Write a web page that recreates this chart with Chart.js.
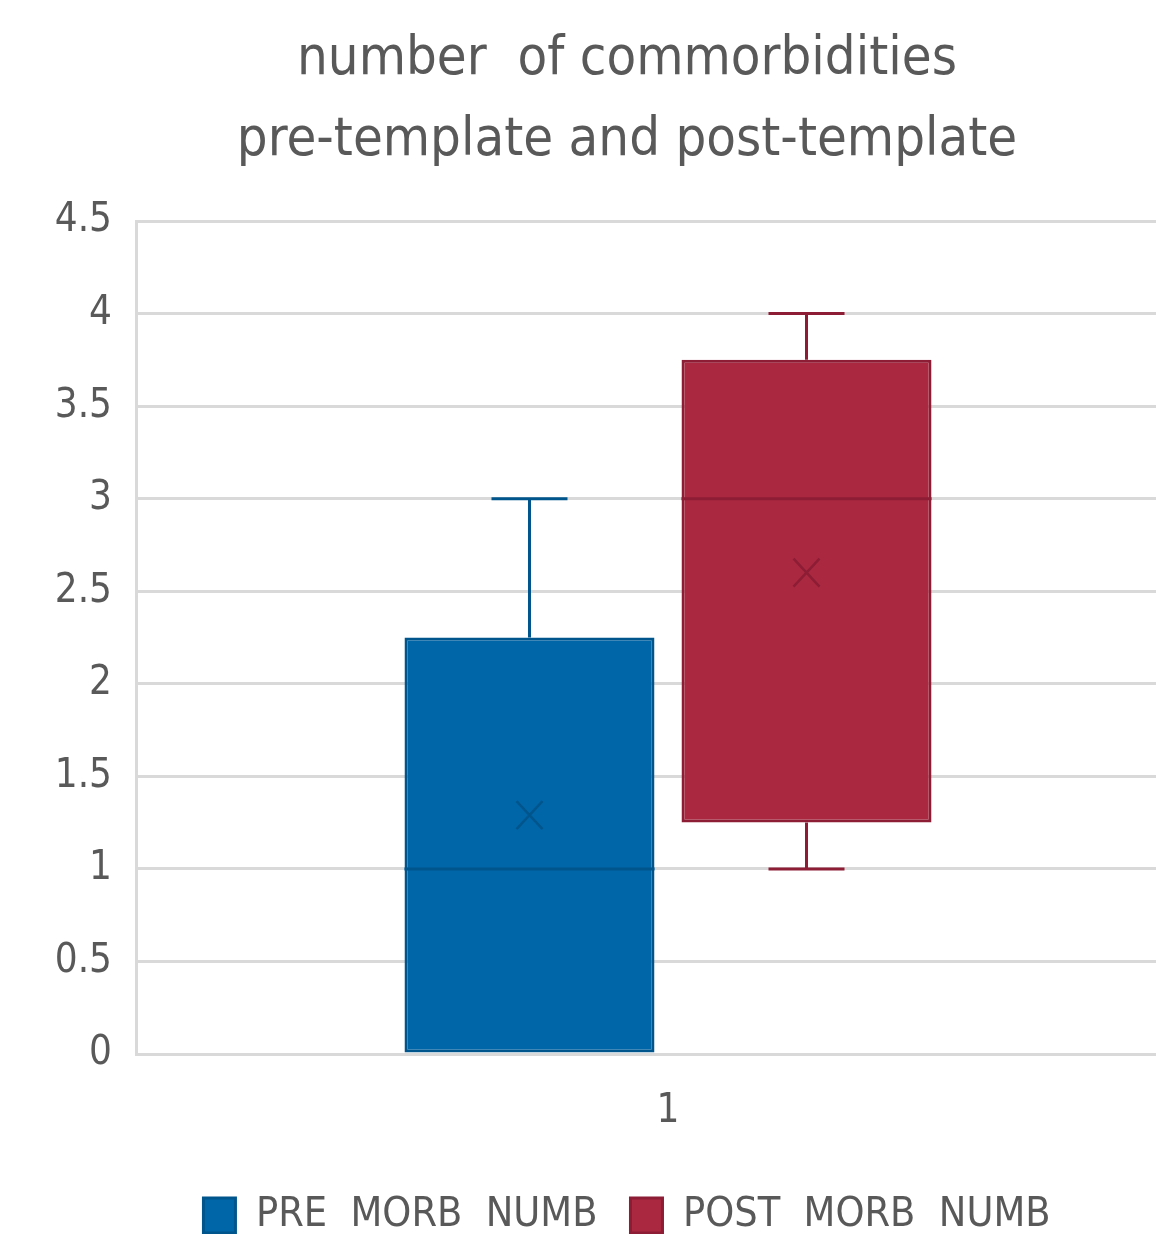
<!DOCTYPE html>
<html>
<head>
<meta charset="utf-8">
<script src="https://cdn.jsdelivr.net/npm/chart.js@4.4.1/dist/chart.umd.min.js"></script>
<style>
  html, body { margin: 0; padding: 0; background: #fff; overflow: hidden; }
  #wrap { width: 1270px; height: 1234px; }
</style>
</head>
<body>
<div id="wrap"><canvas id="boxChart" width="1270" height="1234"></canvas></div>
<script>
// box plot values: min, Q1, median, Q3, max, mean
const categories = ["1"];
const seriesNames = ["PRE  MORB  NUMB", "POST  MORB  NUMB"];
const preStats = [0, 0, 1, 2.25, 3, 1.29];
const postStats = [1, 1.25, 3, 3.75, 4, 2.6];
const yTicks = [0, 0.5, 1, 1.5, 2, 2.5, 3, 3.5, 4, 4.5];

const fills = ["#0066a8", "#aa2840"];
const edges = ["#00558c", "#8c1d34"];
const FONT = "'Liberation Sans Narrow', 'DejaVu Sans Condensed', 'Arial Narrow', sans-serif";
const textGray = "#595959";

const stats = [preStats, postStats];

// whiskers, median line and mean cross on top of the floating bars
const boxExtras = {
    id: "boxExtras",
    afterDatasetsDraw(chart) {
        const ctx = chart.ctx;
        const y = chart.scales.y;
        stats.forEach((s, i) => {
            const bar = chart.getDatasetMeta(i).data[0];
            if (!bar) return;
            const cx = bar.x;
            const half = bar.width / 2;
            const [mn, q1, med, q3, mx, mean] = s;
            ctx.save();
            ctx.strokeStyle = edges[i];
            ctx.lineWidth = 3;
            ctx.lineCap = "butt";
            // upper whisker
            if (mx > q3) {
                ctx.beginPath();
                ctx.moveTo(cx, y.getPixelForValue(q3));
                ctx.lineTo(cx, y.getPixelForValue(mx));
                ctx.moveTo(cx - 38, y.getPixelForValue(mx));
                ctx.lineTo(cx + 38, y.getPixelForValue(mx));
                ctx.stroke();
            }
            // lower whisker
            if (mn < q1) {
                ctx.beginPath();
                ctx.moveTo(cx, y.getPixelForValue(q1));
                ctx.lineTo(cx, y.getPixelForValue(mn));
                ctx.moveTo(cx - 38, y.getPixelForValue(mn));
                ctx.lineTo(cx + 38, y.getPixelForValue(mn));
                ctx.stroke();
            }
            // median
            ctx.beginPath();
            ctx.moveTo(cx - half, y.getPixelForValue(med));
            ctx.lineTo(cx + half, y.getPixelForValue(med));
            ctx.stroke();
            // mean marker
            const my = y.getPixelForValue(mean);
            ctx.lineWidth = 2.5;
            ctx.beginPath();
            ctx.moveTo(cx - 13, my - 14);
            ctx.lineTo(cx + 13, my + 14);
            ctx.moveTo(cx + 13, my - 14);
            ctx.lineTo(cx - 13, my + 14);
            ctx.stroke();
            ctx.restore();
        });
    }
};

new Chart(document.getElementById("boxChart"), {
    type: "bar",
    data: {
        labels: categories,
        datasets: seriesNames.map((name, i) => ({
            label: name,
            data: [[stats[i][1], stats[i][3]]],
            backgroundColor: fills[i],
            borderColor: edges[i],
            borderWidth: 3,
            borderSkipped: false,
            barPercentage: 0.9025,
            categoryPercentage: 0.5207
        }))
    },
    options: {
        responsive: false,
        devicePixelRatio: 1,
        animation: false,
        layout: { padding: { left: 54, right: 70, top: 0, bottom: -12 } },
        plugins: {
            title: {
                display: true,
                text: ["number  of commorbidities", "pre-template and post-template"],
                color: textGray,
                font: { family: FONT, size: 54, weight: "normal", lineHeight: 1.5 },
                padding: { top: 19, bottom: 40 }
            },
            legend: {
                position: "bottom",
                labels: {
                    color: textGray,
                    font: { family: FONT, size: 41 },
                    boxWidth: 32,
                    boxHeight: 35,
                    padding: 33
                }
            },
            tooltip: { enabled: false }
        },
        scales: {
            x: {
                grid: { display: false },
                border: { display: false },
                ticks: { color: textGray, font: { family: FONT, size: 40 }, padding: 26 }
            },
            y: {
                min: 0,
                max: 4.5,
                afterBuildTicks(scale) {
                    scale.ticks = yTicks.map(v => ({ value: v }));
                },
                afterFit(scale) {
                    scale.width = 82;
                },
                grid: { color: "#d9d9d9", lineWidth: 3, drawTicks: false },
                border: { display: true, color: "#d9d9d9", width: 3 },
                ticks: {
                    color: textGray,
                    font: { family: FONT, size: 40 },
                    padding: 24,
                    callback: v => String(v)
                }
            }
        }
    },
    plugins: [boxExtras]
});
</script>
</body>
</html>
